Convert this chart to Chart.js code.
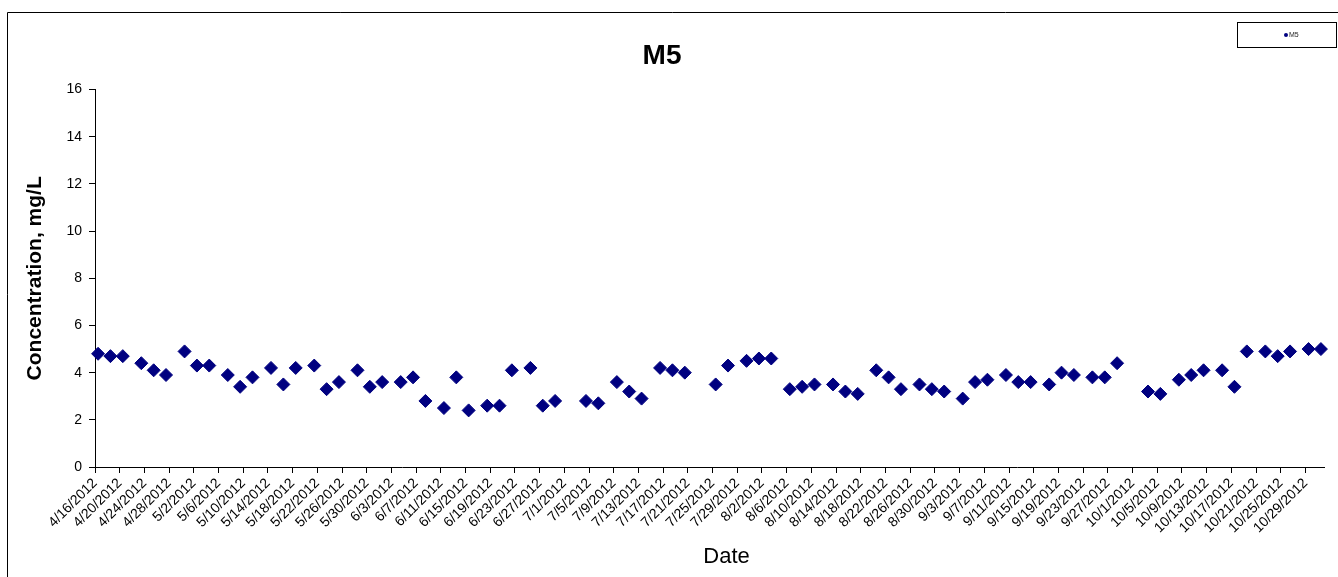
<!DOCTYPE html>
<html>
<head>
<meta charset="utf-8">
<title>M5</title>
<script src="https://cdn.jsdelivr.net/npm/chart.js@4.4.1/dist/chart.umd.min.js"></script>
<style>
  html, body { margin: 0; padding: 0; background: #fff; }
  #wrap { position: relative; width: 1338px; height: 577px; }
  canvas { display: block; }
</style>
</head>
<body>
<div id="wrap"><canvas id="chart" width="1338" height="577"></canvas></div>
<script>
// Sampling dates and measured concentrations for station M5
const sampleDates = [
  '4/16/2012', '4/18/2012', '4/20/2012', '4/23/2012', '4/25/2012', '4/27/2012', '4/30/2012',
  '5/2/2012', '5/4/2012', '5/7/2012', '5/9/2012', '5/11/2012', '5/14/2012', '5/16/2012',
  '5/18/2012', '5/21/2012', '5/23/2012', '5/25/2012', '5/28/2012', '5/30/2012',
  '6/1/2012', '6/4/2012', '6/6/2012', '6/8/2012', '6/11/2012', '6/13/2012', '6/15/2012',
  '6/18/2012', '6/20/2012', '6/22/2012', '6/25/2012', '6/27/2012', '6/29/2012',
  '7/4/2012', '7/6/2012', '7/9/2012', '7/11/2012', '7/13/2012', '7/16/2012', '7/18/2012',
  '7/20/2012', '7/25/2012', '7/27/2012', '7/30/2012',
  '8/1/2012', '8/3/2012', '8/6/2012', '8/8/2012', '8/10/2012', '8/13/2012', '8/15/2012',
  '8/17/2012', '8/20/2012', '8/22/2012', '8/24/2012', '8/27/2012', '8/29/2012', '8/31/2012',
  '9/3/2012', '9/5/2012', '9/7/2012', '9/10/2012', '9/12/2012', '9/14/2012', '9/17/2012',
  '9/19/2012', '9/21/2012', '9/24/2012', '9/26/2012', '9/28/2012',
  '10/3/2012', '10/5/2012', '10/8/2012', '10/10/2012', '10/12/2012', '10/15/2012',
  '10/17/2012', '10/19/2012', '10/22/2012', '10/24/2012', '10/26/2012', '10/29/2012',
  '10/31/2012'
];

const m5Values = [
  4.8, 4.7, 4.7, 4.4, 4.1, 3.9, 4.9,
  4.3, 4.3, 3.9, 3.4, 3.8, 4.2, 3.5,
  4.2, 4.3, 3.3, 3.6, 4.1, 3.4,
  3.6, 3.6, 3.8, 2.8, 2.5, 3.8, 2.4,
  2.6, 2.6, 4.1, 4.2, 2.6, 2.8,
  2.8, 2.7, 3.6, 3.2, 2.9, 4.2, 4.1,
  4.0, 3.5, 4.3, 4.5,
  4.6, 4.6, 3.3, 3.4, 3.5, 3.5, 3.2,
  3.1, 4.1, 3.8, 3.3, 3.5, 3.3, 3.2,
  2.9, 3.6, 3.7, 3.9, 3.6, 3.6, 3.5,
  4.0, 3.9, 3.8, 3.8, 4.4,
  3.2, 3.1, 3.7, 3.9, 4.1, 4.1,
  3.4, 4.9, 4.9, 4.7, 4.9, 5.0,
  5.0
];

// Date axis: labelled every four days
const axisStartDate = '4/16/2012';
const axisEndDate = '11/1/2012';
const dateTickLabels = [
  '4/16/2012', '4/20/2012', '4/24/2012', '4/28/2012', '5/2/2012', '5/6/2012', '5/10/2012',
  '5/14/2012', '5/18/2012', '5/22/2012', '5/26/2012', '5/30/2012', '6/3/2012', '6/7/2012',
  '6/11/2012', '6/15/2012', '6/19/2012', '6/23/2012', '6/27/2012', '7/1/2012', '7/5/2012',
  '7/9/2012', '7/13/2012', '7/17/2012', '7/21/2012', '7/25/2012', '7/29/2012', '8/2/2012',
  '8/6/2012', '8/10/2012', '8/14/2012', '8/18/2012', '8/22/2012', '8/26/2012', '8/30/2012',
  '9/3/2012', '9/7/2012', '9/11/2012', '9/15/2012', '9/19/2012', '9/23/2012', '9/27/2012',
  '10/1/2012', '10/5/2012', '10/9/2012', '10/13/2012', '10/17/2012', '10/21/2012',
  '10/25/2012', '10/29/2012'
];

const concentrationTicks = [0, 2, 4, 6, 8, 10, 12, 14, 16];

const seriesName = 'M5';
const chartTitle = 'M5';
const xAxisTitle = 'Date';
const yAxisTitle = 'Concentration, mg/L';

const FONT = 'Arial, "Liberation Sans", Helvetica, sans-serif';
const NAVY = '#000080';

// Whole days elapsed since the first day of the axis
function dayOffset(mdy) {
  const [m, d, y] = mdy.split('/').map(Number);
  const [m0, d0, y0] = axisStartDate.split('/').map(Number);
  return Math.round((Date.UTC(y, m - 1, d) - Date.UTC(y0, m0 - 1, d0)) / 86400000);
}

// Each sample sits in the middle of its day
const points = sampleDates.map((s, i) => ({ x: dayOffset(s) + 0.5, y: m5Values[i] }));

// Outer frame, boxed legend and the date axis caption
const decorations = {
  id: 'decorations',
  beforeDraw(chart) {
    const ctx = chart.ctx;
    ctx.save();
    ctx.strokeStyle = '#000';
    ctx.lineWidth = 1;
    ctx.beginPath();
    ctx.moveTo(7.5, chart.height);
    ctx.lineTo(7.5, 12.5);
    ctx.lineTo(chart.width, 12.5);
    ctx.stroke();
    ctx.restore();
  },
  afterDraw(chart) {
    const ctx = chart.ctx;
    const ds = chart.data.datasets[0];
    ctx.save();
    // legend box
    ctx.strokeStyle = '#000';
    ctx.lineWidth = 1;
    ctx.strokeRect(1237.5, 22.5, 99, 25);
    ctx.fillStyle = ds.backgroundColor;
    ctx.beginPath();
    ctx.arc(1286, 35, 2, 0, Math.PI * 2);
    ctx.fill();
    ctx.fillStyle = '#222';
    ctx.font = '7px ' + FONT;
    ctx.textBaseline = 'middle';
    ctx.textAlign = 'left';
    ctx.fillText(ds.label, 1289, 35.5);
    // x axis caption
    const area = chart.chartArea;
    ctx.fillStyle = '#000';
    ctx.font = '22px ' + FONT;
    ctx.textAlign = 'center';
    ctx.textBaseline = 'middle';
    ctx.fillText(xAxisTitle, (area.left + area.right) / 2 + 17, 557);
    ctx.restore();
  }
};

new Chart(document.getElementById('chart'), {
  type: 'scatter',
  data: {
    datasets: [{
      label: seriesName,
      data: points,
      clip: false,
      pointStyle: 'rectRot',
      pointRadius: 6.5,
      pointHoverRadius: 6.5,
      backgroundColor: NAVY,
      borderColor: NAVY,
      borderWidth: 1
    }]
  },
  options: {
    responsive: false,
    animation: false,
    layout: { padding: { top: 0, right: 14, bottom: 0, left: 0 } },
    plugins: {
      legend: { display: false },
      tooltip: { enabled: false },
      title: {
        display: true,
        text: chartTitle,
        color: '#000',
        font: { family: FONT, size: 28, weight: 'bold', lineHeight: 1.2 },
        padding: { top: 39, bottom: 17 }
      }
    },
    scales: {
      x: {
        type: 'linear',
        min: dayOffset(axisStartDate),
        max: dayOffset(axisEndDate),
        afterBuildTicks(axis) {
          axis.ticks = dateTickLabels.map(l => ({ value: dayOffset(l) }));
        },
        afterFit(axis) { axis.height = 110; },
        grid: {
          display: true,
          drawOnChartArea: false,
          drawTicks: true,
          tickLength: 6,
          color: '#000'
        },
        border: { display: true, color: '#000', width: 1 },
        ticks: {
          autoSkip: false,
          minRotation: 45,
          maxRotation: 45,
          padding: 2,
          color: '#000',
          font: { family: FONT, size: 14 },
          callback: (value, index) => dateTickLabels[index]
        }
      },
      y: {
        type: 'linear',
        min: concentrationTicks[0],
        max: concentrationTicks[concentrationTicks.length - 1],
        afterBuildTicks(axis) {
          axis.ticks = concentrationTicks.map(v => ({ value: v }));
        },
        afterFit(axis) { axis.width = 95; },
        grid: {
          display: true,
          drawOnChartArea: false,
          drawTicks: true,
          tickLength: 6,
          color: '#000'
        },
        border: { display: true, color: '#000', width: 1 },
        ticks: {
          padding: 7,
          color: '#000',
          font: { family: FONT, size: 14 }
        },
        title: {
          display: true,
          text: yAxisTitle,
          color: '#000',
          font: { family: FONT, size: 21, weight: 'bold', lineHeight: 1.2 },
          padding: { top: 23, bottom: 0 }
        }
      }
    }
  },
  plugins: [decorations]
});
</script>
</body>
</html>
